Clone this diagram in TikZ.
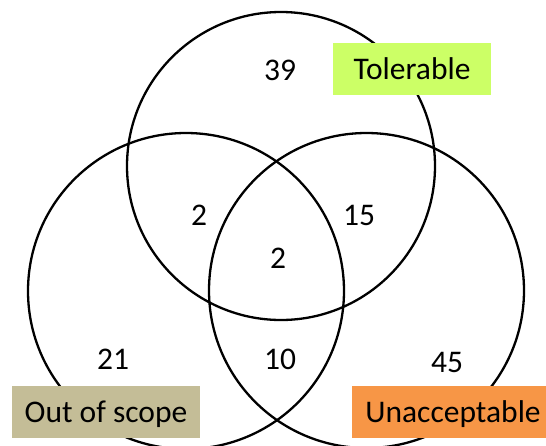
\documentclass[tikz,border=0pt]{standalone}
\usepackage{fontspec}
\setmainfont{Carlito}
\usepackage{xcolor}
\usepackage{tikz}

\definecolor{tolgreen}{RGB}{204,255,102}
\definecolor{scopetan}{RGB}{196,189,151}
\definecolor{unaccorange}{RGB}{247,150,70}

\begin{document}
\begin{tikzpicture}[x=1pt, y=-1pt,
        font=\fontsize{31.5}{38}\selectfont,
        ring/.style={line width=2.3pt},
        count/.style={inner sep=0pt},
        tag/.style={inner sep=0pt, minimum height=52pt, text depth=0pt}]
        \useasboundingbox (0,0) rectangle (546,445);

        \draw[ring] (281,166) circle (154pt); % tolerable
        \draw[ring] (186,291) circle (158pt); % out of scope
        \draw[ring] (366.5,290.5) circle (157.5pt); % unacceptable

        \node[tag, fill=tolgreen, minimum width=158pt] (tol) at (412,68.5) {Tolerable};
        \node[tag, fill=scopetan, minimum width=188pt] (oos) at (106,411.5) {Out of scope};
        \node[tag, fill=unaccorange, minimum width=202pt] (unacc) at (453,411.5) {Unacceptable};

        \node[count] (tonly) at (280,70) {39};
        \node[count] (tosc) at (199,215) {2};
        \node[count] (tunac) at (359,215) {15};
        \node[count] (all) at (278,258) {2};
        \node[count] (oonly) at (113,359) {21};
        \node[count] (ounac) at (280,359) {10};
        \node[count] (uonly) at (447,362) {45};
    \end{tikzpicture}
\end{document}
